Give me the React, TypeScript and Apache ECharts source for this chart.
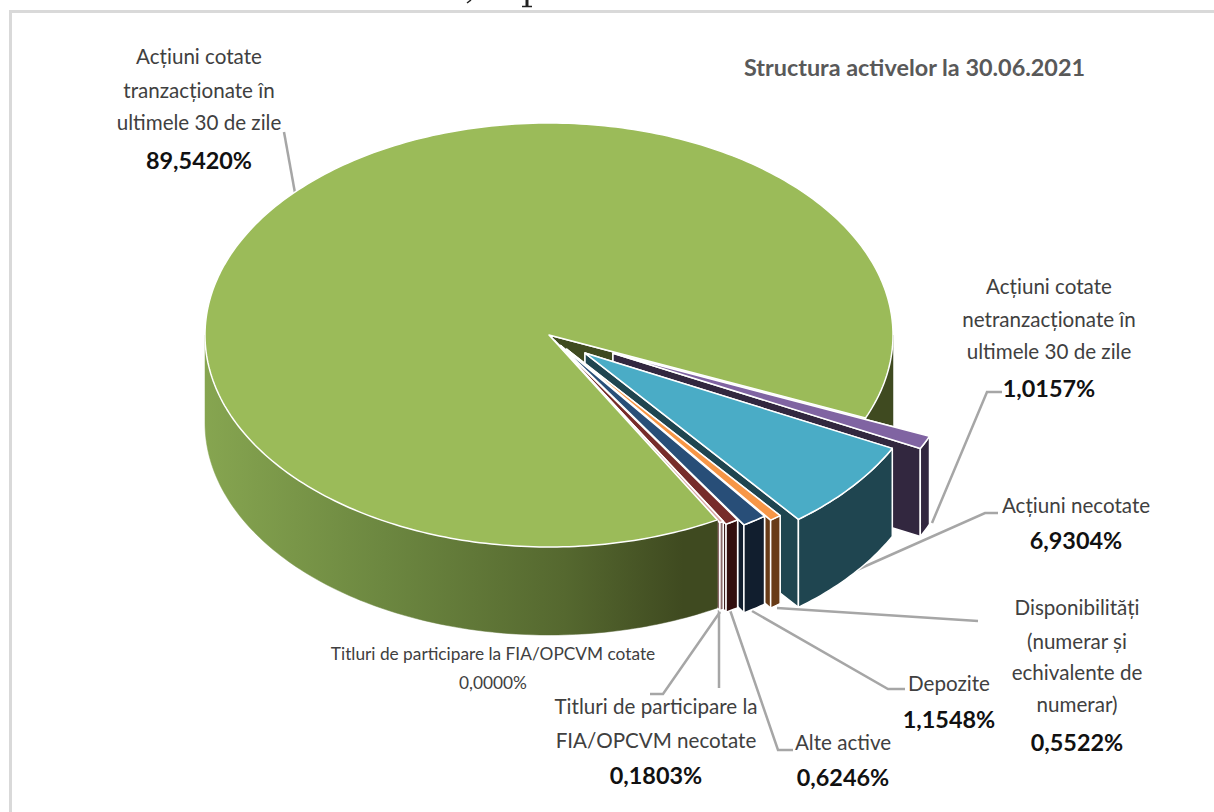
import React, { useEffect, useRef } from "react";
import * as echarts from "echarts";

const sliceNames = [
  "Acțiuni cotate tranzacționate în ultimele 30 de zile",
  "Acțiuni cotate netranzacționate în ultimele 30 de zile",
  "Acțiuni necotate",
  "Disponibilități (numerar și echivalente de numerar)",
  "Depozite",
  "Alte active",
  "Titluri de participare la FIA/OPCVM necotate",
  "Titluri de participare la FIA/OPCVM cotate",
];
const sliceValues = [89.542, 1.0157, 6.9304, 0.5522, 1.1548, 0.6246, 0.1803, 0];
const topColors = ["#9BBB59", "#8064A2", "#4AACC6", "#F79646", "#284E78", "#772C2A", "#D9A9A8", "#D9A9A8"];
const wallColors = ["#3F4A20", "#32273F", "#1F4550", "#693C18", "#111E2E", "#320F0E", "#8A6A6A", "#8A6A6A"];
const explode = [0, 0.205, 0.135, 0.085, 0.06, 0.03, 0.015, 0.01];

const TITLE = "Structura activelor la 30.06.2021";

const labelLines = [
  ["Acțiuni cotate", "tranzacționate în", "ultimele 30 de zile"],
  ["Acțiuni cotate", "netranzacționate în", "ultimele 30 de zile"],
  ["Acțiuni necotate"],
  ["Disponibilități", "(numerar și", "echivalente de", "numerar)"],
  ["Depozite"],
  ["Alte active"],
  ["Titluri de participare la", "FIA/OPCVM necotate"],
  ["Titluri de participare la FIA/OPCVM cotate"],
];
const labelPercents = ["89,5420%", "1,0157%", "6,9304%", "0,5522%", "1,1548%", "0,6246%", "0,1803%", "0,0000%"];

// layout of the picture
const CX = 549, CY = 335, RX = 344, RY = 212, DEPTH = 88, FIRST_ANGLE = 60.7;
const labelCenters = [199, 1049, 1076, 1077, 949, 843, 656, 493];
const labelLineY = [
  [56, 90, 122], [286, 319, 351], [505], [607, 641, 672, 704], [683], [742], [706, 740], [653],
];
const labelPctY = [160, 388, 540, 742, 719, 777, 775, 682];
const leaders: number[][][] = [
  [[284, 132], [295, 193]],
  [[1002, 392], [987, 392], [932, 523]],
  [[998, 513], [985, 513], [850, 573]],
  [[777, 608], [978, 621]],
  [[752, 611], [888, 689], [905, 689]],
  [[730, 610], [778, 750], [793, 750]],
  [[719, 610], [719, 688]],
  [[720, 612], [663, 694], [650, 694]],
];
// remnants of a cropped line of text at the top edge of the picture
const cropMarks: number[][][] = [
  [[471, 0], [467, 3]],
  [[527, 0], [527, 6]],
  [[522, 6.5], [532, 6.5]],
];

const FONT = "Lato";

const rad = (d: number) => (d * Math.PI) / 180;
const total = sliceValues.reduce((a, b) => a + b, 0);

function renderSlice(params: any, api: any) {
  const i = params.dataIndex;
  const value = api.value(1);
  let start = FIRST_ANGLE;
  for (let k = 0; k < i; k++) start += (sliceValues[k] / total) * 360;
  const end = start + (value / total) * 360;
  const mid = (start + end) / 2;
  const ox = CX + explode[i] * RX * Math.cos(rad(mid));
  const oy = CY + explode[i] * RY * Math.sin(rad(mid));
  const pt = (a: number) => [ox + RX * Math.cos(rad(a)), oy + RY * Math.sin(rad(a))];
  const arcBetween = (from: number, to: number) => {
    const n = Math.max(2, Math.ceil(to - from));
    const out: number[][] = [];
    for (let s = 0; s <= n; s++) out.push(pt(from + ((to - from) * s) / n));
    return out;
  };
  const arc = arcBetween(start, end);
  const lowered = (pts: number[][]) => pts.map((p) => [p[0], p[1] + DEPTH]).reverse();
  const lineStyle = { stroke: "#ffffff", lineWidth: 1.5, lineJoin: "round" };
  const wallFill = wallColors[i];
  const children: any[] = [];
  const poly = (points: number[][], fill: any, z2: number, stroke = true) =>
    children.push({
      type: "polygon",
      z2,
      shape: { points },
      style: stroke ? { fill, ...lineStyle } : { fill, stroke: fill, lineWidth: 0.5 },
    });
  const a0 = arc[0];
  const a1 = arc[arc.length - 1];
  if (i === 0) {
    const grad = new echarts.graphic.LinearGradient(
      CX - RX, 0, CX + 170, 0,
      [
        { offset: 0, color: "#86A550" },
        { offset: 0.35, color: "#6C8740" },
        { offset: 0.7, color: "#55682F" },
        { offset: 0.93, color: "#3F4A20" },
        { offset: 1, color: "#3F4A20" },
      ],
      true
    );
    // parts of the green slice that lie behind the exploded slices
    const rightArc = arcBetween(360, end);
    poly(rightArc.concat(lowered(rightArc)), wallFill, 1, false);
    poly([[ox, oy], a1, [a1[0], a1[1] + DEPTH], [ox, oy + DEPTH]], wallFill, 2);
    // parts in front of them
    const frontArc = arcBetween(start, 180);
    poly(frontArc.concat(lowered(frontArc)), grad, 200, false);
    poly(arc.concat([[ox, oy]]), topColors[i], 201);
  } else if (value > 0) {
    const base = i * 10;
    poly([[ox, oy], a0, [a0[0], a0[1] + DEPTH], [ox, oy + DEPTH]], wallFill, base);
    poly([[ox, oy], a1, [a1[0], a1[1] + DEPTH], [ox, oy + DEPTH]], wallFill, base + 1);
    poly(arc.concat(lowered(arc)), wallFill, base + 2);
    poly(arc.concat([[ox, oy]]), topColors[i], base + 3);
  }
  return { type: "group", children };
}

function buildGraphics() {
  const els: any[] = [
    { type: "line", shape: { x1: 10.5, y1: 11.5, x2: 1214, y2: 11.5 }, style: { stroke: "#D9D9D9", lineWidth: 3 } },
    { type: "line", shape: { x1: 10.5, y1: 10, x2: 10.5, y2: 812 }, style: { stroke: "#D9D9D9", lineWidth: 3 } },
    {
      type: "text",
      x: 744,
      y: 67,
      style: { text: TITLE, font: `bold 23.4px ${FONT}`, fill: "#595959", textAlign: "left", textVerticalAlign: "middle" },
    },
  ];
  cropMarks.forEach((pts, i) => {
    els.push({ type: "polyline", shape: { points: pts }, style: { stroke: "#222222", lineWidth: i === 1 ? 3 : 1.5, fill: "none" } });
  });
  leaders.forEach((pts) => {
    els.push({ type: "polyline", shape: { points: pts }, style: { stroke: "#A6A6A6", lineWidth: 2.5, fill: "none" } });
  });
  labelLines.forEach((lines, i) => {
    const small = i === 7;
    lines.forEach((t, j) => {
      els.push({
        type: "text",
        x: labelCenters[i],
        y: labelLineY[i][j],
        style: {
          text: t,
          font: `${small ? 17.3 : 20.6}px ${FONT}`,
          fill: "#404040",
          textAlign: "center",
          textVerticalAlign: "middle",
        },
      });
    });
    els.push({
      type: "text",
      x: labelCenters[i],
      y: labelPctY[i],
      style: {
        text: labelPercents[i],
        font: small ? `17.3px ${FONT}` : `bold 23.4px ${FONT}`,
        fill: small ? "#404040" : "#111111",
        textAlign: "center",
        textVerticalAlign: "middle",
      },
    });
  });
  return els;
}

export default function App() {
  const ref = useRef<HTMLDivElement>(null);
  useEffect(() => {
    const chart = echarts.init(ref.current!, null, { renderer: "svg" });
    chart.setOption({
      animation: false,
      backgroundColor: "#ffffff",
      series: [
        {
          type: "custom",
          coordinateSystem: "none",
          silent: true,
          renderItem: renderSlice,
          data: sliceValues.map((v, i) => ({ name: sliceNames[i], value: [i, v] })),
        },
      ],
      graphic: { elements: buildGraphics() },
    });
    return () => chart.dispose();
  }, []);
  return <div ref={ref} style={{ position: "fixed", left: 0, top: 0, width: 1214, height: 812 }} />;
}
